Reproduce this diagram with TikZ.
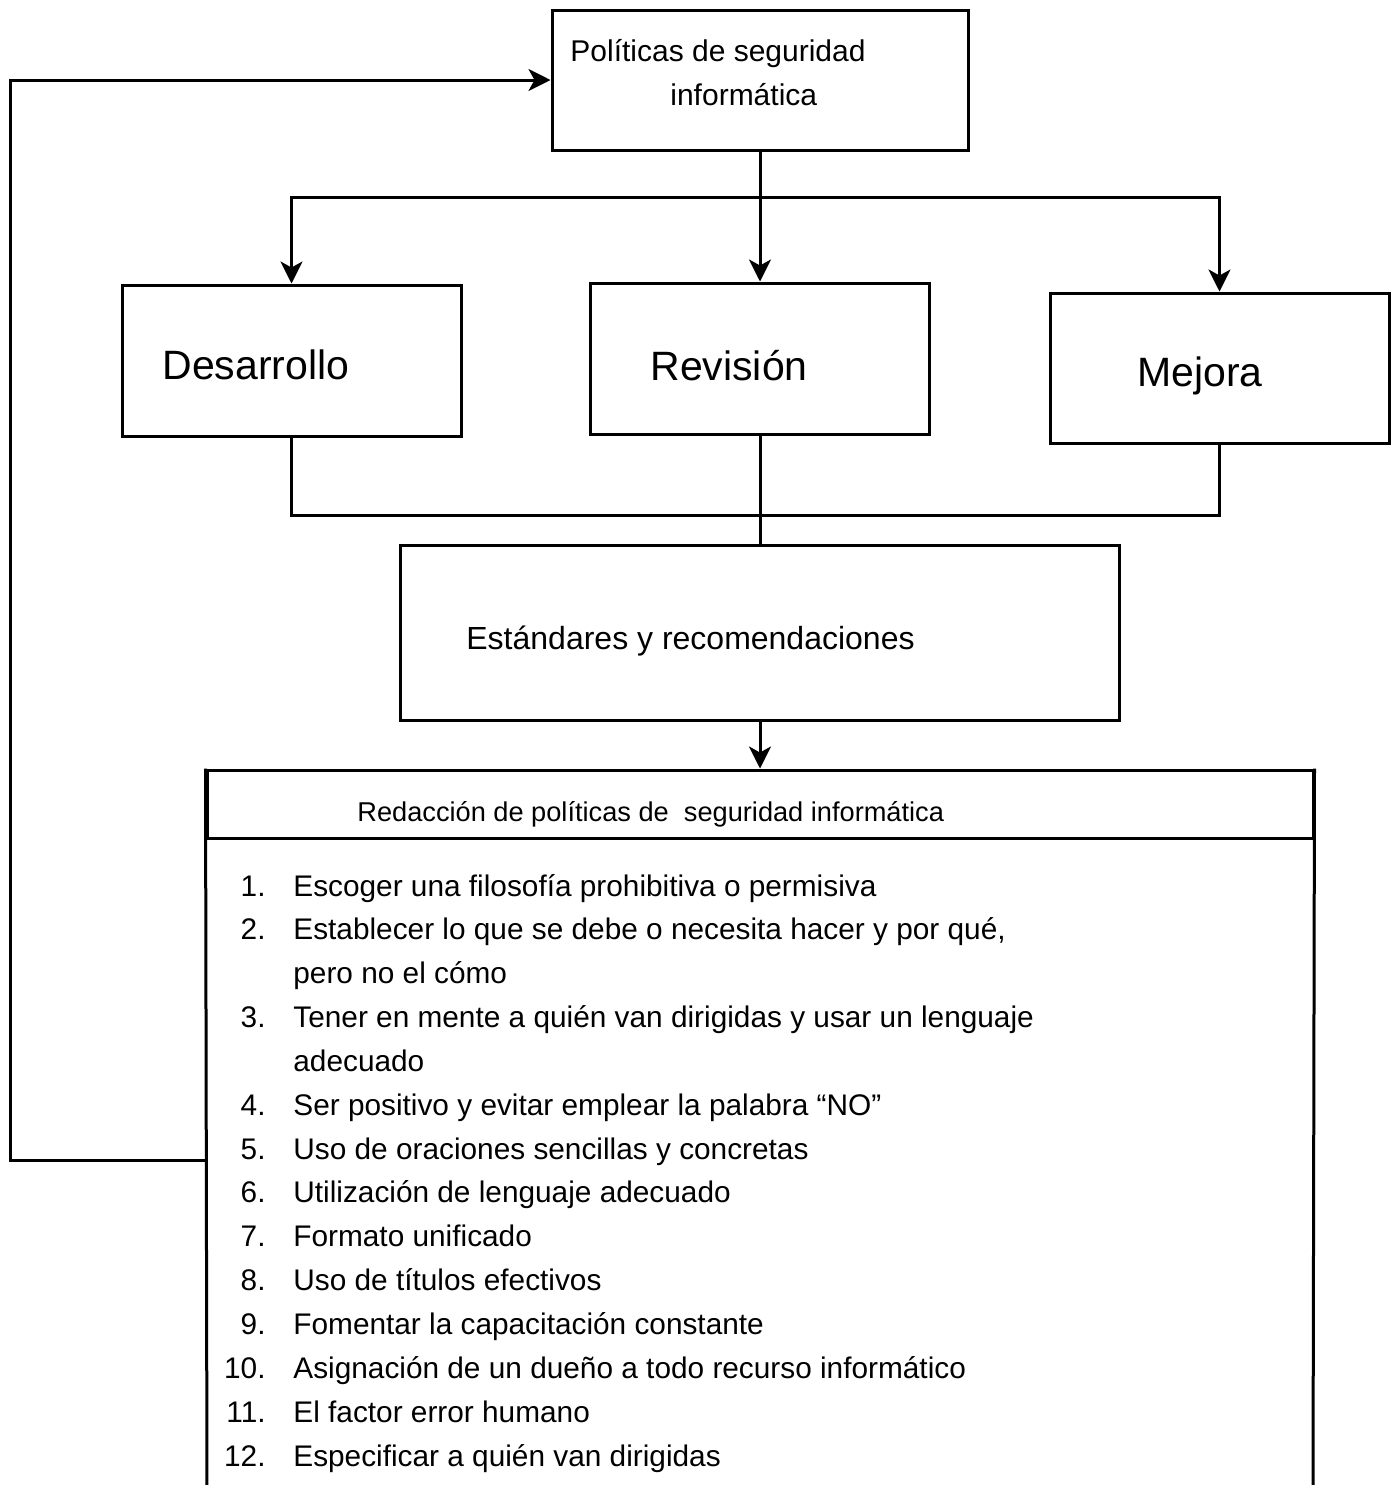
\documentclass[tikz,border=0pt]{standalone}
\usepackage{fontspec}
\setmainfont{Liberation Sans}
\usetikzlibrary{arrows.meta}
\tikzset{
  box/.style={draw, line width=1.5pt, rectangle, inner sep=0pt},
  conn/.style={line width=1.5pt},
  arr/.style={conn, -{Stealth[length=11pt,width=11pt,inset=3pt]}},
  lbl/.style={inner sep=0pt, anchor=base west},
  bigtxt/.style={lbl, font=\fontsize{20.5}{24}\selectfont},
  num/.style={inner sep=0pt, anchor=base east, font=\fontsize{14.9}{18}\selectfont},
  itm/.style={inner sep=0pt, anchor=base west, font=\fontsize{14.9}{18}\selectfont},
}
\begin{document}
\begin{tikzpicture}[x=0.5pt,y=-0.5pt]
\useasboundingbox (0,0) rectangle (1393,1485);
% boxes
\node[box, minimum width=208pt, minimum height=70pt] (pol) at (760,80) {};
\node[box, minimum width=169.5pt, minimum height=75.5pt] (des) at (291.5,360.5) {};
\node[box, minimum width=169.5pt, minimum height=75.5pt] (rev) at (760,358.5) {};
\node[box, minimum width=169.5pt, minimum height=75pt] (mej) at (1219.5,368) {};
\node[box, minimum width=359.5pt, minimum height=87.5pt] (est) at (760,632.5) {};
\node[box, minimum width=553pt, minimum height=34pt] (redac) at (760,804) {};
\coordinate (lbl) at (207,1492);
\coordinate (lbr) at (1313,1492);
\draw[conn] (redac.north west) -- (lbl);
\draw[conn] (redac.north east) -- (lbr);
% texts
\node[lbl, font=\fontsize{15}{18}\selectfont] (polt1) at (570,61) {Políticas de seguridad};
\node[lbl, font=\fontsize{15}{18}\selectfont] (polt2) at (670,105) {informática};
\node[bigtxt] (dest) at (162,379) {Desarrollo};
\node[bigtxt] (revt) at (650,380) {Revisión};
\node[bigtxt] (mejt) at (1137,386) {Mejora};
\node[lbl, font=\fontsize{16}{19}\selectfont] (estt) at (466,649) {Estándares y recomendaciones};
\node[lbl, font=\fontsize{13.6}{16}\selectfont] (redt) at (357,821) {Redacción de políticas de \ seguridad informática};
% list
\node[num] (n1) at (266,896) {1.};
\node[itm] (i1) at (293,896) {Escoger una filosofía prohibitiva o permisiva};
\node[num] (n2) at (266,939.85) {2.};
\node[itm] (i2) at (293,939.85) {Establecer lo que se debe o necesita hacer y por qué,};
\node[itm] (i2b) at (293,983.7) {pero no el cómo};
\node[num] (n3) at (266,1027.55) {3.};
\node[itm] (i3) at (293,1027.55) {Tener en mente a quién van dirigidas y usar un lenguaje};
\node[itm] (i3b) at (293,1071.4) {adecuado};
\node[num] (n4) at (266,1115.25) {4.};
\node[itm] (i4) at (293,1115.25) {Ser positivo y evitar emplear la palabra “NO”};
\node[num] (n5) at (266,1159.1) {5.};
\node[itm] (i5) at (293,1159.1) {Uso de oraciones sencillas y concretas};
\node[num] (n6) at (266,1202.95) {6.};
\node[itm] (i6) at (293,1202.95) {Utilización de lenguaje adecuado};
\node[num] (n7) at (266,1246.8) {7.};
\node[itm] (i7) at (293,1246.8) {Formato unificado};
\node[num] (n8) at (266,1290.65) {8.};
\node[itm] (i8) at (293,1290.65) {Uso de títulos efectivos};
\node[num] (n9) at (266,1334.5) {9.};
\node[itm] (i9) at (293,1334.5) {Fomentar la capacitación constante};
\node[num] (n10) at (266,1378.35) {10.};
\node[itm] (i10) at (293,1378.35) {Asignación de un dueño a todo recurso informático};
\node[num] (n11) at (266,1422.2) {11.};
\node[itm] (i11) at (293,1422.2) {El factor error humano};
\node[num] (n12) at (266,1466.05) {12.};
\node[itm] (i12) at (293,1466.05) {Especificar a quién van dirigidas};
% connectors
\coordinate (split) at (760,197);
\coordinate (join) at (760,515);
\coordinate (fb) at (207,1160);
\coordinate (lc) at (10,80);
\draw[conn] (pol.south) -- (split);
\draw[arr] (split) -- (rev.north);
\draw[arr] (split) -| (des.north);
\draw[arr] (split) -| (mej.north);
\draw[conn] (des.south) |- (join);
\draw[conn] (mej.south) |- (join);
\draw[conn] (rev.south) -- (est.north);
\draw[arr] (est.south) -- (redac.north);
\draw[arr] (fb) -| (lc) -- (pol.west);
\end{tikzpicture}
\end{document}
